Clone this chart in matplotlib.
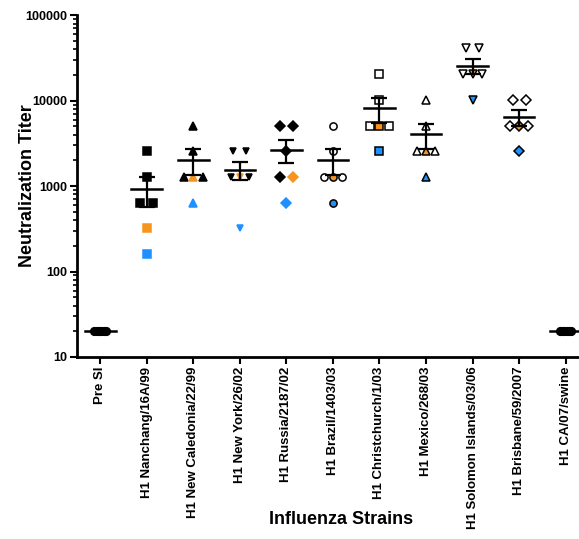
import matplotlib
matplotlib.use("Agg")
import matplotlib.pyplot as plt
import numpy as np
from matplotlib.ticker import LogLocator, FixedLocator, NullFormatter

plt.rcParams['font.family'] = ['Liberation Sans', 'DejaVu Sans']
plt.rcParams['font.weight'] = 'bold'

strains = ["Pre SI", "H1 Nanchang/16A/99", "H1 New Caledonia/22/99",
           "H1 New York/26/02", "H1 Russia/2187/02", "H1 Brazil/1403/03",
           "H1 Christchurch/1/03", "H1 Mexico/268/03", "H1 Solomon Islands/03/06",
           "H1 Brisbane/59/2007", "H1 CA/07/swine"]

# titers per animal: four black animals, then the orange one, then the blue one
titers = [
    [20, 20, 20, 20, 20, 20],
    [2560, 1280, 640, 640, 320, 160],
    [5120, 2560, 1280, 1280, 1280, 640],
    [2560, 2560, 1280, 1280, 1280, 320],
    [5120, 5120, 2560, 1280, 1280, 640],
    [5120, 2560, 1280, 1280, 1280, 640],
    [20480, 10240, 5120, 5120, 5120, 2560],
    [10240, 5120, 2560, 2560, 2560, 1280],
    [40960, 40960, 20480, 20480, 20480, 10240],
    [10240, 10240, 5120, 5120, 5120, 2560],
    [20, 20, 20, 20, 20, 20],
]

markers = ['o', 's', '^', 'v', 'D', 'o', 's', '^', 'v', 'D', 'o']
open_marker = [False, False, False, False, False, True, True, True, True, True, False]
marker_size = [5.5, 5.2, 5.6, 4.6, 5.0, 5.2, 5.6, 5.6, 6.4, 5.6, 5.5]

orange = '#F7941D'
blue = '#1E90FF'

fig = plt.figure(figsize=(5.79, 5.39), dpi=100)
ax = fig.add_axes([0.133, 0.3377, 0.884, 0.634])

for i, vals in enumerate(titers):
    vals = np.array(vals, dtype=float)
    n = len(vals)
    # colour of each animal
    cols = []
    for k in range(n):
        if k == n - 2 and i not in (0, 10):
            cols.append(orange)
        elif k == n - 1 and i not in (0, 10):
            cols.append(blue)
        else:
            cols.append('white' if open_marker[i] else 'black')
    # spread tied values sideways, orange one in the middle
    xs = np.zeros(n)
    for v in np.unique(vals):
        idx = [k for k in range(n) if vals[k] == v]
        oi = [k for k in idx if cols[k] == orange]
        rest = [k for k in idx if cols[k] != orange]
        if oi:
            rest.insert(len(idx) // 2, oi[0])
        m = len(rest)
        step = 0.05 if m > 3 else (0.28 if m == 2 else 0.2)
        for j, k in enumerate(rest):
            xs[k] = i + (j - (m - 1) / 2) * step
    for k in range(n):
        face = cols[k]
        if open_marker[i] or cols[k] == 'black' or cols[k] == 'white':
            edge = 'black'
        else:
            edge = cols[k]
        ax.plot(xs[k], vals[k], marker=markers[i], ms=marker_size[i],
                mfc=face, mec=edge, mew=1.1, ls='none', zorder=3)
    mean = vals.mean()
    sem = vals.std(ddof=1) / np.sqrt(n)
    ax.plot([i - 0.33, i + 0.33], [mean, mean], color='black', lw=1.8, zorder=4)
    if sem > 0:
        ax.errorbar(i, mean, yerr=sem, fmt='none', ecolor='black', elinewidth=1.6,
                    capsize=6, capthick=1.6, zorder=4)

ax.set_yscale('log')
ax.set_ylim(10, 100000)
ax.set_xlim(-0.5, 10.5)
ax.yaxis.set_major_locator(FixedLocator([10, 100, 1000, 10000, 100000]))
ax.set_yticklabels(['10', '100', '1000', '10000', '100000'])
ax.yaxis.set_minor_locator(LogLocator(base=10, subs=np.arange(2, 10)))
ax.yaxis.set_minor_formatter(NullFormatter())
ax.set_xticks(range(len(strains)))
ax.set_xticklabels(strains, rotation=90, fontsize=9.5, fontweight='bold')
for lab in ax.get_yticklabels():
    lab.set_fontsize(9)
    lab.set_fontweight('bold')

ax.spines['top'].set_visible(False)
ax.spines['right'].set_visible(False)
ax.spines['left'].set_linewidth(2)
ax.spines['bottom'].set_linewidth(2)
ax.tick_params(axis='both', which='major', length=5, width=1.5, direction='out', pad=2)
ax.tick_params(axis='y', which='minor', length=3, width=1.2)

ax.set_ylabel('Neutralization Titer', fontsize=13, fontweight='bold')
ax.yaxis.set_label_coords(-0.08, 0.5)
ax.set_xlabel('Influenza Strains', fontsize=13, fontweight='bold')
ax.xaxis.set_label_coords(0.516, -0.45)

fig.savefig('out.png', dpi=100)
